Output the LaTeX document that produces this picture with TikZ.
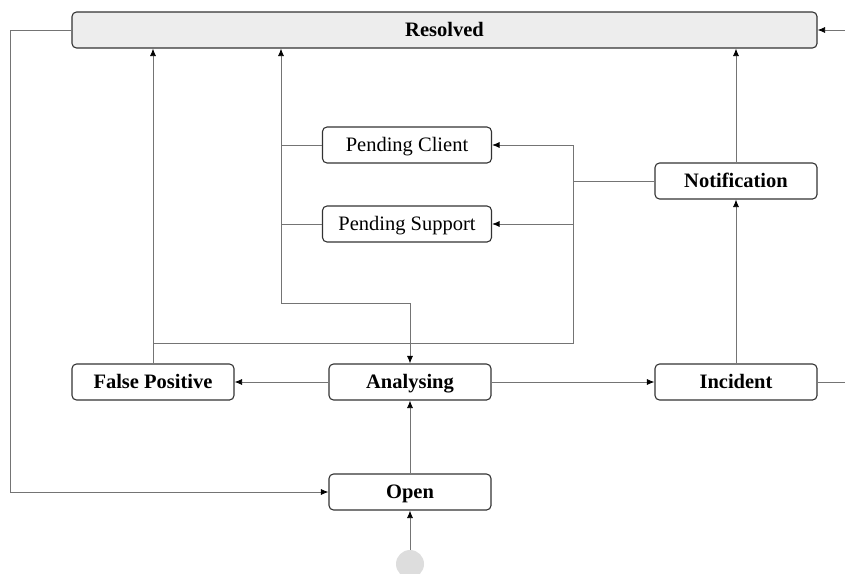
\documentclass[tikz,border=0pt]{standalone}
\usepackage{fontspec}
\setmainfont{Liberation Serif}
\usetikzlibrary{arrows.meta}
\definecolor{linegray}{HTML}{747474}
\definecolor{boxline}{HTML}{333333}
\definecolor{resfill}{HTML}{EDEDED}
\definecolor{startfill}{HTML}{DDDDDD}
\tikzset{
  state/.style={draw=boxline, line width=1.1pt, rounded corners=4.5pt, fill=white,
    minimum height=36pt, inner sep=0pt, text height=15pt, text depth=3pt,
    font=\fontsize{20.5}{23}\selectfont\bfseries},
  pending/.style={state, font=\fontsize{20.5}{23}\selectfont},
  conn/.style={draw=linegray, line width=0.8pt},
  arr/.style={conn, -{Latex[length=7.5pt,width=6pt,black]}},
}
\begin{document}
\begin{tikzpicture}[x=1pt,y=-1pt]
\useasboundingbox (0,0) rectangle (845,573);

% states
\node[state, fill=resfill, minimum width=745pt] (res) at (444.5,30) {Resolved};
\node[pending, minimum width=169pt] (pc) at (407,145) {Pending Client};
\node[pending, minimum width=169pt] (ps) at (407,224) {Pending Support};
\node[state, minimum width=162pt] (note) at (736,181) {Notification};
\node[state, minimum width=162pt] (fp) at (153,382) {False Positive};
\node[state, minimum width=162pt] (ana) at (410,382) {Analysing};
\node[state, minimum width=162pt] (inc) at (736,382) {Incident};
\node[state, minimum width=162pt] (open) at (410,492) {Open};
\node[circle, fill=startfill, minimum size=28pt, inner sep=0pt] (start) at (410,564) {};

% junction points
\coordinate (left) at (10,30);
\coordinate (rin) at (845,30);
\coordinate (rout) at (845,382);
\coordinate (ja) at (281,303);
\coordinate (jn) at (573,145);
\coordinate (jb) at (573,343);

% connectors
\draw[arr] (res.west) -- (left) |- (open.west);
\draw[arr] (rin) -- (res.east);
\draw[conn] (inc.east) -- (rout);
\draw[arr] (fp.north) -- (fp.north |- res.south);
\draw[conn] (pc.west) -- (ja |- pc.west);
\draw[conn] (ps.west) -- (ja |- ps.west);
\draw[arr] (ja) -- (ja |- res.south);
\draw[arr] (ja) -| (ana.north);
\draw[conn] (note.west) -- (jn |- note.west);
\draw[conn] (jn) -- (jb) -- (fp.north |- jb);
\draw[arr] (jn) -- (pc.east);
\draw[arr] (jn |- ps.east) -- (ps.east);
\draw[arr] (note.north) -- (note.north |- res.south);
\draw[arr] (inc.north) -- (note.south);
\draw[arr] (ana.west) -- (fp.east);
\draw[arr] (ana.east) -- (inc.west);
\draw[arr] (open.north) -- (ana.south);
\draw[arr] (start.north) -- (open.south);
\end{tikzpicture}
\end{document}
